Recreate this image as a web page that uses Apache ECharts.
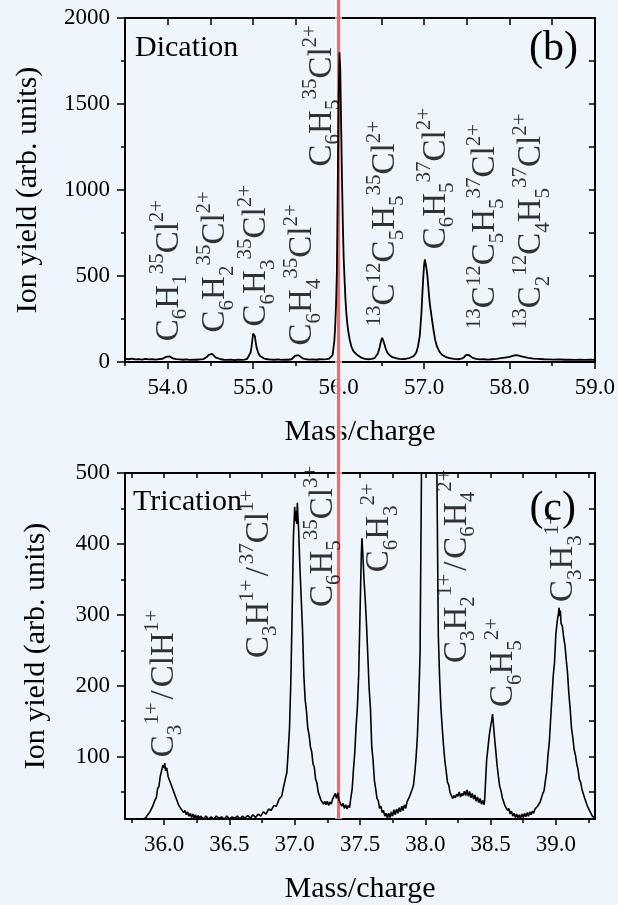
<!DOCTYPE html>
<html>
<head>
<meta charset="utf-8">
<script src="https://cdn.jsdelivr.net/npm/echarts@6/dist/echarts.min.js"></script>
<style>
  html, body { margin: 0; padding: 0; background: #eff5fd; }
  #chart { width: 618px; height: 905px; }
</style>
</head>
<body>
<div id="chart"></div>
<script>
// ---- Dication spectrum (panel b): [mass/charge, ion yield] ----
const dicationTrace = [
  [53.50,18],[53.54,16],[53.58,19],[53.62,15],[53.66,17],[53.70,14],[53.74,18],[53.78,15],[53.82,16],[53.86,14],[53.90,17],[53.94,19],
  [53.96,24],[53.98,30],[54.00,36],[54.02,33],[54.04,27],[54.06,21],[54.10,17],[54.14,15],[54.18,13],[54.22,15],[54.26,12],[54.30,14],[54.34,13],[54.38,15],[54.42,17],
  [54.44,22],[54.46,30],[54.48,42],[54.50,52],[54.52,47],[54.54,36],[54.56,27],[54.58,21],[54.62,16],[54.66,13],[54.70,12],[54.74,14],[54.78,11],[54.82,13],[54.86,12],[54.90,14],[54.93,18],
  [54.95,28],[54.97,55],[54.98,85],[54.99,125],[55.00,165],[55.01,172],[55.02,150],[55.03,115],[55.04,85],[55.06,52],[55.08,35],[55.10,26],[55.13,20],[55.17,16],[55.21,14],[55.25,13],[55.29,15],[55.33,12],[55.37,14],[55.41,13],[55.45,16],
  [55.47,24],[55.49,36],[55.51,46],[55.53,40],[55.55,30],[55.58,21],[55.62,16],[55.66,14],[55.70,15],[55.74,13],[55.78,16],[55.82,15],[55.86,17],[55.89,20],
  [55.91,22],[55.93,40],[55.95,120],[55.96,200],[55.97,330],[55.98,520],[55.99,1000],[56.00,1500],[56.01,1800],[56.02,1700],[56.03,1380],[56.04,1060],[56.05,800],[56.06,600],[56.07,480],[56.08,370],[56.09,290],[56.10,235],[56.11,190],[56.13,130],[56.15,90],[56.17,66],[56.19,54],[56.22,40],[56.25,30],[56.28,22],[56.31,18],[56.35,16],[56.39,18],[56.42,22],
  [56.44,30],[56.46,50],[56.48,85],[56.50,128],[56.51,141],[56.52,135],[56.53,115],[56.55,80],[56.57,55],[56.60,38],[56.63,28],[56.67,22],[56.71,18],[56.75,17],[56.79,19],[56.83,23],
  [56.85,26],[56.88,35],[56.91,55],[56.93,92],[56.95,150],[56.97,288],[56.98,390],[56.99,480],[57.00,560],[57.01,596],[57.02,585],[57.03,540],[57.04,500],[57.05,440],[57.06,380],[57.07,330],[57.09,260],[57.11,190],[57.13,130],[57.15,92],[57.18,60],[57.21,42],[57.25,30],[57.30,22],[57.35,18],[57.40,16],[57.44,19],
  [57.47,28],[57.49,40],[57.50,45],[57.52,42],[57.54,33],[57.57,24],[57.61,18],[57.65,15],[57.70,16],[57.75,14],[57.80,16],[57.85,18],[57.90,22],
  [57.95,26],[58.00,30],[58.04,36],[58.07,40],[58.10,38],[58.14,33],[58.18,28],[58.22,24],[58.28,20],[58.34,18],[58.40,16],[58.46,15],[58.52,14],[58.58,15],[58.64,13],[58.70,14],[58.76,12],[58.82,13],[58.88,12],[58.94,13],[59.00,12]
];

// Peak assignments for panel b: formula (_ subscript, ^ superscript), label foot position
const dicationLabelText = [
  'C_6H_1^35Cl^2+', 'C_6H_2^35Cl^2+', 'C_6H_3^35Cl^2+', 'C_6H_4^35Cl^2+', 'C_6H_5^35Cl^2+',
  '^13C^12C_5H_5^35Cl^2+', 'C_6H_5^37Cl^2+', '^13C^12C_5H_5^37Cl^2+', '^13C_2^12C_4H_5^37Cl^2+'
];
const dicationLabelMass = [54.02, 54.56, 55.04, 55.58, 55.81, 56.55, 57.14, 57.72, 58.26];
const dicationLabelBase = [121, 172, 207, 96, 1137, 207, 655, 190, 190];

// Axis ticks for panel b
const dicationXLabels = [54, 55, 56, 57, 58, 59];
const dicationXMinor = [53.5, 54.5, 55.5, 56.5, 57.5, 58.5];
const dicationXTop = [54, 54.5, 55, 55.5, 56, 56.5, 57, 57.5, 58, 58.5];
const dicationYLabels = [0, 500, 1000, 1500, 2000];
const dicationYMinor = [250, 750, 1250, 1750];
const dicationYRight = [250, 500, 750, 1000, 1250, 1500, 1750];

// ---- Trication spectrum (panel c): [mass/charge, ion yield] ----
const tricationTrace = [
  [35.70,10],[35.72,11],[35.74,10],[35.76,11],[35.78,10],[35.80,11],[35.82,10],[35.84,12],[35.86,14],[35.87,17],[35.88,16],[35.89,22],[35.90,21],[35.91,29],[35.92,31],[35.93,39],[35.94,42],[35.95,55],[35.96,58],[35.97,72],[35.98,74],[35.99,88],[36.00,84],[36.005,91],[36.01,80],[36.02,84],[36.03,72],[36.04,74],[36.05,62],[36.06,64],[36.07,52],[36.08,54],[36.09,42],[36.10,44],[36.11,32],[36.12,34],[36.13,26],[36.14,28],[36.15,21],[36.16,24],[36.17,18],[36.18,22],[36.19,16],[36.20,20],[36.21,14],[36.22,19],[36.23,13],[36.24,18],[36.25,12],[36.26,17],[36.27,13],[36.28,16],[36.30,12],[36.32,16],[36.34,12],[36.36,15],[36.38,12],[36.40,16],[36.42,13],[36.44,15],[36.46,12],[36.48,16],[36.50,12],[36.52,15],[36.54,13],[36.56,16],[36.58,12],[36.60,16],[36.62,13],[36.64,17],[36.66,13],[36.68,18],[36.70,14],[36.72,19],[36.74,16],[36.76,22],[36.78,19],[36.80,26],[36.82,24],[36.84,31],[36.86,30],[36.88,40],[36.90,44],[36.91,53],[36.92,55],[36.93,70],[36.94,78],[36.95,107],[36.96,140],[36.97,205],[36.98,300],[36.99,410],[37.00,452],[37.005,432],[37.01,446],[37.015,428],[37.02,458],[37.025,436],[37.03,420],[37.04,366],[37.05,322],[37.06,278],[37.07,214],[37.08,180],[37.09,164],[37.10,140],[37.11,131],[37.12,114],[37.13,107],[37.14,90],[37.15,85],[37.16,68],[37.17,63],[37.18,50],[37.19,49],[37.20,39],[37.21,41],[37.22,33],[37.23,37],[37.24,32],[37.25,37],[37.26,31],[37.27,36],[37.28,33],[37.29,40],[37.30,38],[37.31,48],[37.32,41],[37.33,49],[37.34,38],[37.35,39],[37.36,30],[37.37,34],[37.38,27],[37.39,32],[37.40,26],[37.41,31],[37.42,28],[37.43,42],[37.44,54],[37.45,82],[37.46,106],[37.47,142],[37.48,170],[37.49,215],[37.50,300],[37.51,385],[37.515,408],[37.52,392],[37.525,372],[37.53,352],[37.54,322],[37.55,286],[37.56,242],[37.57,196],[37.58,168],[37.59,114],[37.60,95],[37.61,67],[37.62,55],[37.63,41],[37.64,38],[37.65,27],[37.66,30],[37.67,21],[37.68,24],[37.69,16],[37.70,20],[37.71,13],[37.72,20],[37.73,14],[37.74,22],[37.75,16],[37.76,25],[37.77,18],[37.78,26],[37.79,20],[37.80,28],[37.81,22],[37.82,30],[37.83,24],[37.84,32],[37.85,27],[37.86,36],[37.87,35],[37.88,44],[37.89,46],[37.90,54],[37.91,60],[37.92,78],[37.93,100],[37.94,130],[37.95,180],[37.96,245],[37.97,480],[37.98,720],[38.00,1050],[38.03,1100],[38.06,900],[38.08,650],[38.09,480],[38.10,270],[38.11,210],[38.12,168],[38.13,140],[38.14,115],[38.15,94],[38.16,80],[38.17,64],[38.18,60],[38.19,49],[38.20,48],[38.21,41],[38.22,45],[38.23,42],[38.24,47],[38.25,44],[38.26,50],[38.27,43],[38.28,48],[38.29,45],[38.30,51],[38.31,45],[38.32,53],[38.33,44],[38.34,51],[38.35,42],[38.36,48],[38.37,40],[38.38,46],[38.39,37],[38.40,43],[38.41,35],[38.42,41],[38.43,33],[38.44,38],[38.45,32],[38.455,40],[38.46,58],[38.47,95],[38.48,112],[38.49,130],[38.50,142],[38.51,152],[38.515,160],[38.52,150],[38.53,128],[38.54,108],[38.55,88],[38.56,72],[38.57,58],[38.58,52],[38.59,42],[38.60,40],[38.61,31],[38.62,33],[38.63,24],[38.64,27],[38.65,19],[38.66,23],[38.67,16],[38.68,20],[38.69,14],[38.70,19],[38.71,13],[38.72,18],[38.73,13],[38.74,19],[38.75,14],[38.76,20],[38.77,15],[38.78,21],[38.79,16],[38.80,22],[38.81,18],[38.82,23],[38.83,20],[38.84,26],[38.85,24],[38.86,30],[38.87,29],[38.88,36],[38.89,38],[38.90,48],[38.91,52],[38.92,66],[38.93,78],[38.94,102],[38.95,120],[38.96,152],[38.97,183],[38.98,214],[38.99,233],[39.00,272],[39.01,290],[39.02,302],[39.025,310],[39.03,298],[39.035,306],[39.04,288],[39.05,284],[39.06,268],[39.07,257],[39.08,236],[39.09,217],[39.10,188],[39.11,167],[39.12,140],[39.13,127],[39.14,110],[39.15,102],[39.16,90],[39.17,82],[39.18,68],[39.19,64],[39.20,54],[39.21,52],[39.22,42],[39.23,40],[39.24,31],[39.25,30],[39.26,23],[39.27,22],[39.28,16],[39.29,17],[39.30,13]
];

// Peak assignments for panel c
const tricationLabelText = [
  'C_3^1+/ClH^1+', 'C_3H^1+/^37Cl^1+', 'C_6H_5^35Cl^3+', 'C_6H_3^2+',
  'C_3H_2^1+/C_6H_4^2+', 'C_6H_5^2+', 'C_3H_3^1+'
];
const tricationLabelMass = [36.0, 36.73, 37.22, 37.65, 38.245, 38.6, 39.06];
const tricationLabelBase = [99, 239, 311, 360, 232, 170, 318];

// Axis ticks for panel c
const tricationXLabels = [36, 36.5, 37, 37.5, 38, 38.5, 39];
const tricationXMinor = [35.75, 36.25, 36.75, 37.25, 37.75, 38.25, 38.75, 39.25];
const tricationXTop = [35.75, 36, 36.25, 36.5, 36.75, 37, 37.25, 37.5, 37.75, 38, 38.25, 38.5, 38.75, 39, 39.25];
const tricationYLabels = [100, 200, 300, 400, 500];
const tricationYMinor = [50, 150, 250, 350, 450];
const tricationYRight = [50, 100, 150, 200, 250, 300, 350, 400, 450];

// Mass/charge at which the vertical marker crosses both panels
const markerMass = 56.0;

const serif = '"Liberation Serif", "Times New Roman", serif';
const ink = '#000';

// Turn "C_6H_5^35Cl^2+" into ECharts rich-text tokens
function richLabel(formula) {
  let out = '';
  let i = 0;
  while (i < formula.length) {
    const ch = formula[i];
    if (ch === '_' || ch === '^') {
      let j = i + 1;
      while (j < formula.length && /[0-9+]/.test(formula[j])) j++;
      out += '{' + (ch === '_' ? 'sb' : 'sp') + '|' + formula.slice(i + 1, j) + '}';
      i = j;
    } else if (ch === '/') {
      out += '{sl|/}';
      i += 1;
    } else {
      let j = i;
      while (j < formula.length && !'_^/'.includes(formula[j])) j++;
      out += '{m|' + formula.slice(i, j) + '}';
      i = j;
    }
  }
  return out;
}

const richStyles = {
  m:  { fontFamily: serif, fontSize: 33, lineHeight: 44, color: ink },
  sl: { fontFamily: serif, fontSize: 33, lineHeight: 44, color: ink, padding: [0, 3, 0, 3] },
  sp: { fontFamily: serif, fontSize: 21, lineHeight: 21, verticalAlign: 'top', color: ink },
  sb: { fontFamily: serif, fontSize: 21, lineHeight: 21, verticalAlign: 'bottom', color: ink }
};

const axisLineStyle = { show: true, onZero: false, lineStyle: { color: ink, width: 2 } };
const tickLine = { color: ink, width: 1.5 };
const tickFont = { fontFamily: serif, fontSize: 23, color: ink };
const nameFont = { fontFamily: serif, fontSize: 30, color: ink };

function xMain(grid, min, max, ticks, len, gap) {
  return {
    gridIndex: grid, type: 'value', position: 'bottom', min: min, max: max,
    axisLine: axisLineStyle,
    axisTick: { show: true, inside: false, length: len, lineStyle: tickLine, customValues: ticks },
    axisLabel: Object.assign({ show: true, customValues: ticks, margin: 14,
      formatter: v => Number(v).toFixed(1) }, tickFont),
    splitLine: { show: false },
    name: 'Mass/charge', nameLocation: 'middle', nameGap: gap, nameTextStyle: nameFont
  };
}
function xMinor(grid, min, max, ticks, len) {
  return {
    gridIndex: grid, type: 'value', position: 'bottom', min: min, max: max,
    axisLine: { show: false, onZero: false },
    axisTick: { show: true, inside: false, length: len, lineStyle: tickLine, customValues: ticks },
    axisLabel: { show: false }, splitLine: { show: false }
  };
}
function xTop(grid, min, max, ticks, len) {
  return {
    gridIndex: grid, type: 'value', position: 'top', min: min, max: max,
    axisLine: axisLineStyle,
    axisTick: { show: true, inside: true, length: len, lineStyle: tickLine, customValues: ticks },
    axisLabel: { show: false }, splitLine: { show: false }
  };
}
function yMain(grid, min, max, ticks, gap) {
  return {
    gridIndex: grid, type: 'value', position: 'left', min: min, max: max,
    axisLine: axisLineStyle,
    axisTick: { show: true, inside: false, length: 8, lineStyle: tickLine, customValues: ticks },
    axisLabel: Object.assign({ show: true, customValues: ticks, margin: 15,
      formatter: v => String(v) }, tickFont),
    splitLine: { show: false },
    name: 'Ion yield (arb. units)', nameLocation: 'middle', nameRotate: 90, nameGap: gap,
    nameTextStyle: nameFont
  };
}
function yMinor(grid, min, max, ticks) {
  return {
    gridIndex: grid, type: 'value', position: 'left', min: min, max: max,
    axisLine: { show: false, onZero: false },
    axisTick: { show: true, inside: false, length: 4, lineStyle: tickLine, customValues: ticks },
    axisLabel: { show: false }, splitLine: { show: false }
  };
}
function yRight(grid, min, max, ticks) {
  return {
    gridIndex: grid, type: 'value', position: 'right', min: min, max: max,
    axisLine: axisLineStyle,
    axisTick: { show: true, inside: true, length: 6, lineStyle: tickLine, customValues: ticks },
    axisLabel: { show: false }, splitLine: { show: false }
  };
}

function labelSeries(xIdx, yIdx, masses, bases, texts) {
  return {
    type: 'scatter', xAxisIndex: xIdx, yAxisIndex: yIdx,
    symbolSize: 1, itemStyle: { color: 'rgba(0,0,0,0)' },
    silent: true, emphasis: { disabled: true }, z: 4,
    data: masses.map((m, i) => [m, bases[i]]),
    label: {
      show: true, position: 'inside', rotate: 90, align: 'left', verticalAlign: 'middle',
      color: ink, textBorderWidth: 0,
      formatter: p => richLabel(texts[p.dataIndex]),
      rich: richStyles
    }
  };
}

const chart = echarts.init(document.getElementById('chart'), null, { renderer: 'canvas' });

chart.setOption({
  animation: false,
  backgroundColor: '#eff5fd',
  grid: [
    { left: 125, top: 18, width: 470, height: 344 },
    { left: 125, top: 473, width: 470, height: 346 }
  ],
  xAxis: [
    xMain(0, 53.5, 59, dicationXLabels, 7, 55),
    xMinor(0, 53.5, 59, dicationXMinor, 4),
    xTop(0, 53.5, 59, dicationXTop, 7),
    xMain(1, 35.7, 39.3, tricationXLabels, 6, 55),
    xMinor(1, 35.7, 39.3, tricationXMinor, 4),
    xTop(1, 35.7, 39.3, tricationXTop, 5)
  ],
  yAxis: [
    yMain(0, 0, 2000, dicationYLabels, 82),
    yMinor(0, 0, 2000, dicationYMinor),
    yRight(0, 0, 2000, dicationYRight),
    yMain(1, 12, 500, tricationYLabels, 74),
    yMinor(1, 12, 500, tricationYMinor),
    yRight(1, 12, 500, tricationYRight)
  ],
  series: [
    {
      type: 'line', xAxisIndex: 0, yAxisIndex: 0, data: dicationTrace,
      showSymbol: false, silent: true, z: 5,
      lineStyle: { color: ink, width: 1.8 }
    },
    labelSeries(0, 0, dicationLabelMass, dicationLabelBase, dicationLabelText),
    {
      type: 'line', xAxisIndex: 3, yAxisIndex: 3, data: tricationTrace,
      showSymbol: false, silent: true, z: 5,
      lineStyle: { color: ink, width: 1.6 }
    },
    labelSeries(3, 3, tricationLabelMass, tricationLabelBase, tricationLabelText)
  ]
});

// Vertical marker and panel annotations, placed from the laid-out axes
const markerX = chart.convertToPixel({ xAxisIndex: 0 }, markerMass);
const markerBottom = chart.convertToPixel({ yAxisIndex: 3 }, 12);
const dicTop = chart.convertToPixel({ yAxisIndex: 0 }, 2000);
const triTop = chart.convertToPixel({ yAxisIndex: 3 }, 500);

chart.setOption({
  graphic: [
    { type: 'text', x: 135, y: dicTop + 30, z: 50,
      style: { text: 'Dication', font: '30px ' + serif, fill: ink, align: 'left', verticalAlign: 'middle' } },
    { type: 'text', x: 578, y: dicTop + 31, z: 50,
      style: { text: '(b)', font: '42px ' + serif, fill: ink, align: 'right', verticalAlign: 'middle' } },
    { type: 'text', x: 133, y: triTop + 29, z: 50,
      style: { text: 'Trication', font: '30px ' + serif, fill: ink, align: 'left', verticalAlign: 'middle' } },
    { type: 'text', x: 576, y: triTop + 36, z: 50,
      style: { text: '(c)', font: '42px ' + serif, fill: ink, align: 'right', verticalAlign: 'middle' } },
    { type: 'line', z: 1, zlevel: 0, silent: true,
      shape: { x1: markerX, y1: 0, x2: markerX, y2: markerBottom },
      style: { stroke: 'rgba(255,255,255,0.7)', lineWidth: 7 } },
    { type: 'line', z: 2, zlevel: 0, silent: true,
      shape: { x1: markerX, y1: 0, x2: markerX, y2: markerBottom },
      style: { stroke: '#f36a6a', lineWidth: 3.2 } }
  ]
});
</script>
</body>
</html>
